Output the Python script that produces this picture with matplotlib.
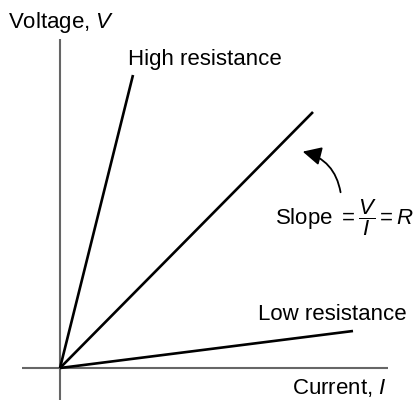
import matplotlib
matplotlib.use("Agg")
import matplotlib.pyplot as plt
from matplotlib.patches import FancyArrowPatch

plt.rcParams['font.family'] = ['Liberation Sans', 'DejaVu Sans']
plt.rcParams['mathtext.fontset'] = 'custom'
plt.rcParams['mathtext.rm'] = 'Liberation Sans'
plt.rcParams['mathtext.it'] = 'Liberation Sans:italic'

# Line end points (current, voltage) in arbitrary units
line_names = ["High resistance", "Medium", "Low resistance"]
current_end = [73, 253, 293]
voltage_end = [293, 256, 37]

fig = plt.figure(figsize=(4.19, 4.0), dpi=100)
ax = fig.add_axes([0, 0, 1, 1])
ax.set_xlim(-60, 359)
ax.set_ylim(-32, 368)
ax.axis('off')

# axes
ax.plot([0, 0], [-32, 329], color='#666666', lw=1.5, solid_capstyle='butt')
ax.plot([-38, 328], [0, 0], color='#666666', lw=1.5, solid_capstyle='butt')

for c, v in zip(current_end, voltage_end):
    ax.plot([0, c], [0, v], color='black', lw=1.9, solid_capstyle='butt')

fs = 16
ax.text(-52, 340, "Voltage, $V$", fontsize=fs, ha='left', va='baseline')
ax.text(68, 303, "High resistance", fontsize=fs, ha='left', va='baseline')
ax.text(198, 48, "Low resistance", fontsize=fs, ha='left', va='baseline')
ax.text(232, -26, "Current, $I$", fontsize=fs, ha='left', va='baseline')
ax.text(215, 150, r"Slope$\ =\dfrac{V}{I}=R$", fontsize=fs, ha='left', va='center')

arr = FancyArrowPatch((281, 173), (240, 217), connectionstyle="arc3,rad=0.35",
                      arrowstyle="-|>,head_length=7,head_width=3.5", color='black', lw=1.3,
                      mutation_scale=1.6)
ax.add_patch(arr)

fig.savefig("out.png", dpi=100)
